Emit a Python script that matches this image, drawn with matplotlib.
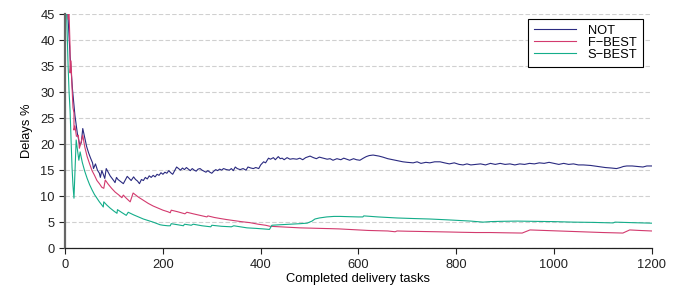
import matplotlib
matplotlib.use("Agg")
import matplotlib.pyplot as plt

plt.rcParams["font.family"] = ["Liberation Sans", "DejaVu Sans"]
plt.rcParams["font.size"] = 9.3

# NOT
not_x = [0, 5, 10, 15, 20, 25, 30, 33, 36, 40, 44, 48, 52, 56, 58, 62, 66, 70, 72, 75, 78, 81, 84,
         88, 92, 96, 100, 102, 105, 108, 112, 116, 119, 123, 127, 131, 135, 140, 144, 148, 152, 156,
         160, 164, 168, 172, 176, 180, 184, 188, 192, 196, 200, 204, 208, 212, 216, 220, 224, 228,
         232, 236, 240, 244, 248, 252, 256, 260, 264, 268, 272, 276, 280, 284, 288, 292, 296, 300,
         304, 308, 312, 316, 320, 324, 330, 336, 340, 344, 348, 352, 358, 364, 370, 374, 380, 385,
         390, 396, 400, 406, 410, 416, 420, 426, 430, 436, 440, 444, 448, 454, 460, 466, 474, 480,
         486, 492, 501, 508, 514, 520, 528, 536, 542, 548, 556, 564, 570, 576, 582, 590, 596, 603,
         610, 616, 622, 630, 636, 642, 650, 660, 670, 680, 691, 700, 712, 720, 728, 738, 746, 756,
         767, 776, 786, 796, 806, 814, 822, 830, 840, 850, 860, 870, 880, 890, 900, 910, 920, 930,
         940, 950, 960, 970, 980, 990, 1000, 1010, 1020, 1030, 1040, 1050, 1060, 1075, 1090, 1105,
         1118, 1128, 1136, 1142, 1149, 1160, 1170, 1182, 1190, 1200]
not_y = [52, 46, 37, 30.5, 25.5, 22, 19.8, 20.3, 23, 21.2, 19.5, 18.3, 17.3, 16.4, 15.3, 16.2, 15,
         14.4, 13.6, 14.9, 14.2, 13.4, 15.3, 14.6, 13.9, 13.4, 12.9, 12.6, 13.6, 13.2, 12.9, 12.6,
         12.4, 13.1, 13.8, 13.4, 13.0, 13.7, 13.2, 12.9, 12.4, 13.2, 13.0, 13.6, 13.3, 13.9, 13.6,
         14.0, 13.7, 14.2, 14.0, 14.5, 14.2, 14.6, 14.4, 14.9, 14.5, 14.2, 14.9, 15.6, 15.3, 15.0,
         15.4, 15.1, 15.5, 15.2, 14.9, 15.3, 15.0, 14.8, 15.2, 15.3, 15.0, 14.8, 14.6, 14.9, 14.6,
         14.4, 14.8, 15.1, 14.9, 15.2, 15.0, 15.3, 15.1, 15.0, 15.3, 14.9, 15.6, 15.3, 15.1, 15.3,
         15.0, 15.6, 15.4, 15.3, 15.5, 15.3, 16.0, 16.6, 16.4, 17.3, 17.1, 17.4, 17.0, 17.6, 17.2,
         17.3, 17.0, 17.4, 17.1, 17.2, 17.1, 17.3, 17.0, 17.4, 17.7, 17.4, 17.2, 17.5, 17.3, 17.1,
         17.2, 16.9, 17.2, 17.0, 17.3, 17.1, 16.9, 17.2, 17.0, 16.9, 17.3, 17.6, 17.8, 17.9, 17.8,
         17.7, 17.5, 17.2, 17.0, 16.8, 16.6, 16.5, 16.4, 16.6, 16.3, 16.5, 16.4, 16.6, 16.6, 16.4,
         16.2, 16.4, 16.1, 16.0, 16.2, 16.0, 16.1, 16.2, 16.0, 16.3, 16.1, 16.3, 16.1, 16.2, 16.0,
         16.2, 16.1, 16.3, 16.2, 16.4, 16.3, 16.5, 16.3, 16.1, 16.3, 16.1, 16.2, 16.0, 16.0, 15.9,
         15.7, 15.5, 15.4, 15.3, 15.5, 15.7, 15.8, 15.8, 15.7, 15.6, 15.8, 15.8]

# F-BEST
fbest_x = [3, 6, 8, 10, 10, 12, 14, 16, 18, 18, 20, 23, 27, 29, 33, 36, 40, 45, 50, 55, 60, 65, 70,
           75, 79, 82, 88, 95, 102, 110, 116, 119, 125, 133, 139, 150, 160, 170, 180, 190, 200, 210,
           215, 217, 230, 245, 249, 262, 276, 290, 292, 305, 317, 330, 345, 360, 378, 395, 410, 419,
           440, 460, 480, 500, 520, 542, 560, 580, 600, 620, 640, 660, 675, 679, 700, 730, 760, 787,
           810, 840, 870, 900, 935, 951, 980, 1010, 1040, 1070, 1100, 1141, 1155, 1175, 1200]
fbest_y = [50, 44, 45, 38.7, 33.7, 36, 31, 27, 26, 22.7, 23.5, 21.5, 21.7, 19.2, 20.5, 21.7, 19.5,
           17.6, 16.2, 14.9, 14.0, 13.0, 12.4, 11.7, 11.5, 13.1, 12.3, 11.5, 10.8, 10.2, 9.7, 10.2,
           9.6, 8.9, 10.6, 9.8, 9.2, 8.6, 8.1, 7.7, 7.3, 7.0, 6.8, 7.3, 7.0, 6.6, 6.9, 6.6, 6.3, 6.0,
           6.2, 5.9, 5.7, 5.5, 5.3, 5.1, 4.9, 4.6, 4.4, 4.2, 4.1, 4.0, 3.9, 3.85, 3.8, 3.75, 3.7,
           3.6, 3.5, 3.4, 3.35, 3.3, 3.15, 3.3, 3.25, 3.2, 3.15, 3.1, 3.05, 3.0, 3.0, 2.95, 2.9, 3.5,
           3.4, 3.3, 3.2, 3.1, 3.0, 2.9, 3.5, 3.4, 3.3]

# S-BEST
sbest_x = [0, 3, 6, 8, 10, 12, 14, 16, 18, 22.5, 25, 28, 30.6, 35, 40, 45, 50, 55, 60, 65, 70, 75,
           78, 79, 85, 92, 100, 106, 107, 115, 125, 129, 140, 150, 160, 170, 180, 194, 200, 210, 215,
           217, 230, 242, 244, 258, 262, 280, 298, 300, 320, 340, 345, 372, 390, 405, 418, 423, 440,
           460, 480, 495, 505, 511, 520, 535, 550, 562, 580, 600, 609, 611, 640, 679, 710, 746, 780,
           800, 830, 855, 870, 890, 924, 960, 1000, 1040, 1080, 1121, 1125, 1160, 1200]
sbest_y = [52, 45, 35, 30, 26.5, 21, 15.6, 12, 9.6, 20.8, 19, 16.9, 18.5, 16.5, 14.8, 13.4, 12.2,
           11.2, 10.3, 9.6, 8.9, 8.3, 7.9, 8.9, 8.3, 7.7, 7.1, 6.7, 7.4, 6.9, 6.3, 6.9, 6.4, 6.0,
           5.6, 5.3, 5.0, 4.5, 4.4, 4.3, 4.3, 4.7, 4.5, 4.3, 4.6, 4.4, 4.6, 4.3, 4.1, 4.4, 4.2, 4.1,
           4.3, 3.9, 3.8, 3.7, 3.6, 4.4, 4.5, 4.6, 4.7, 4.8, 5.2, 5.6, 5.8, 6.0, 6.1, 6.1, 6.05, 6.0,
           6.0, 6.2, 6.0, 5.8, 5.7, 5.6, 5.45, 5.35, 5.2, 5.0, 5.1, 5.15, 5.2, 5.15, 5.1, 5.0, 4.95,
           4.85, 5.0, 4.9, 4.8]

fig = plt.figure(figsize=(6.86, 2.94), dpi=100)
ax = fig.add_axes([0.095, 0.156, 0.855, 0.796])

ax.plot(not_x, not_y, color="#2a2a80", lw=0.8, label="NOT")
ax.plot(fbest_x, fbest_y, color="#d33a6e", lw=0.8, label="F\u2212BEST")
ax.plot(sbest_x, sbest_y, color="#14ad8a", lw=0.8, label="S\u2212BEST")

ax.set_xlim(0, 1200)
ax.set_ylim(0, 45)
ax.set_xticks(range(0, 1201, 200))
ax.set_yticks(range(0, 46, 5))
ax.yaxis.grid(True, ls=(0, (4, 2)), color="#d0d0d0", lw=0.8)
ax.set_axisbelow(True)

for s in ["top", "right"]:
    ax.spines[s].set_visible(False)
ax.spines["left"].set_color("#666666")
ax.spines["left"].set_linewidth(1.6)
ax.spines["bottom"].set_color("#222222")
ax.spines["bottom"].set_linewidth(0.9)
ax.tick_params(direction="out", length=4, width=0.8, colors="#222222", labelsize=9.3)

ax.set_xlabel("Completed delivery tasks", fontsize=9.3, labelpad=2)
ax.set_ylabel("Delays %", fontsize=9.3, labelpad=5)

leg = ax.legend(loc="upper right", bbox_to_anchor=(0.99, 0.99), fontsize=9.3, fancybox=False,
                edgecolor="black", framealpha=1, handlelength=3.3, borderpad=0.45,
                labelspacing=0.0, handletextpad=0.9, borderaxespad=0.2)
leg.get_frame().set_linewidth(0.8)

fig.savefig("out.png", dpi=100)
